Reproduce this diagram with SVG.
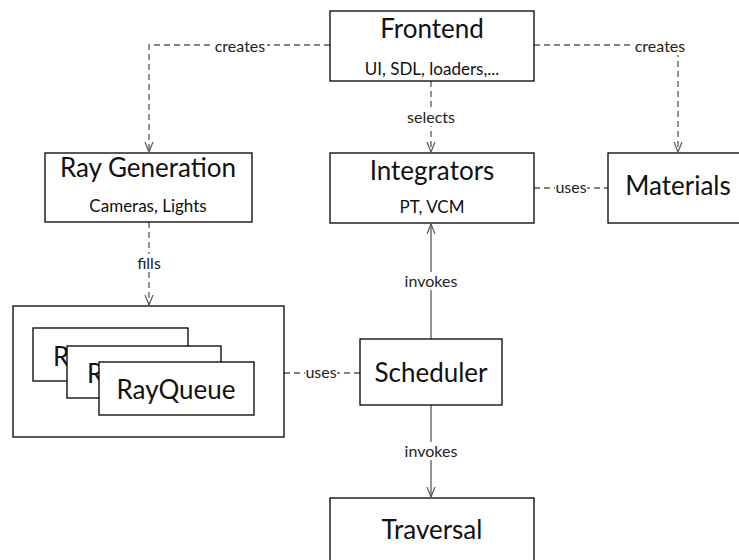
<svg xmlns="http://www.w3.org/2000/svg" width="739" height="560" viewBox="0 0 739 560">
  <defs>
    <style>
      .box { fill: #ffffff; stroke: #000000; stroke-width: 1.3; }
      .title { font-family: Lato, "Liberation Sans", sans-serif; font-size: 26px; fill: #111111; text-anchor: middle; }
      .sub { font-family: Lato, "Liberation Sans", sans-serif; font-size: 17px; fill: #111111; text-anchor: middle; }
      .lbl { font-family: Lato, "Liberation Sans", sans-serif; font-size: 16px; fill: #222222; text-anchor: middle; }
      .dash { fill: none; stroke: #595959; stroke-width: 1.3; stroke-dasharray: 6 4; }
      .solid { fill: none; stroke: #595959; stroke-width: 1.3; }
      .bg { fill: #ffffff; }
    </style>
    <marker id="vee" viewBox="0 0 10 10" refX="10" refY="5" markerWidth="10" markerHeight="10" markerUnits="userSpaceOnUse" orient="auto">
      <path d="M0,1 L10,5 L0,9" fill="none" stroke="#595959" stroke-width="1.2"/>
    </marker>
  </defs>

  <!-- connectors -->
  <g id="connectors">
    <path class="dash" d="M330,45 H149 V152" marker-end="url(#vee)"/>
    <path class="dash" d="M534,45 H678 V152" marker-end="url(#vee)"/>
    <path class="dash" d="M431,81 V152" marker-end="url(#vee)"/>
    <path class="dash" d="M149,222 V305" marker-end="url(#vee)"/>
    <path class="dash" d="M534,188 H608"/>
    <path class="dash" d="M284,373 H360"/>
    <path class="solid" d="M431,339 V224" marker-end="url(#vee)"/>
    <path class="solid" d="M431,405 V497" marker-end="url(#vee)"/>

    <rect class="bg" x="213" y="37" width="54" height="18"/>
    <text class="lbl" x="240" y="52">creates</text>
    <rect class="bg" x="633" y="37" width="54" height="18"/>
    <text class="lbl" x="660" y="52">creates</text>
    <rect class="bg" x="405" y="108" width="52" height="18"/>
    <text class="lbl" x="431" y="123">selects</text>
    <rect class="bg" x="137" y="254" width="24" height="18"/>
    <text class="lbl" x="149" y="269">fills</text>
    <rect class="bg" x="555" y="179" width="32" height="17"/>
    <text class="lbl" x="571" y="193">uses</text>
    <rect class="bg" x="305" y="364" width="32" height="17"/>
    <text class="lbl" x="321" y="378">uses</text>
    <rect class="bg" x="403" y="272" width="56" height="18"/>
    <text class="lbl" x="431" y="287">invokes</text>
    <rect class="bg" x="403" y="442" width="56" height="18"/>
    <text class="lbl" x="431" y="457">invokes</text>
  </g>

  <g id="frontend">
    <rect class="box" x="330" y="11" width="204" height="70"/>
    <text class="title" x="432" y="38">Frontend</text>
    <text class="sub" x="432" y="75">UI, SDL, loaders,...</text>
  </g>

  <g id="ray-generation">
    <rect class="box" x="45" y="153" width="207" height="69"/>
    <text class="title" x="148" y="177">Ray Generation</text>
    <text class="sub" x="148" y="212">Cameras, Lights</text>
  </g>

  <g id="integrators">
    <rect class="box" x="330" y="153" width="204" height="70"/>
    <text class="title" x="432" y="180">Integrators</text>
    <text class="sub" x="432" y="213">PT, VCM</text>
  </g>

  <g id="materials">
    <rect class="box" x="608" y="153" width="140" height="70"/>
    <text class="title" x="678" y="195">Materials</text>
  </g>

  <g id="ray-queues">
    <rect class="box" x="13" y="306" width="271" height="131"/>
    <rect class="box" x="33" y="328" width="155" height="53"/>
    <text class="title" x="53" y="366" style="text-anchor:start">R</text>
    <rect class="box" x="67" y="346" width="154" height="52"/>
    <text class="title" x="87" y="383" style="text-anchor:start">R</text>
    <rect class="box" x="99" y="362" width="155" height="53"/>
    <text class="title" x="176" y="399">RayQueue</text>
  </g>

  <g id="scheduler">
    <rect class="box" x="360" y="339" width="142" height="66"/>
    <text class="title" x="431" y="382">Scheduler</text>
  </g>

  <g id="traversal">
    <rect class="box" x="330" y="498" width="204" height="70"/>
    <text class="title" x="432" y="539">Traversal</text>
  </g>
</svg>
